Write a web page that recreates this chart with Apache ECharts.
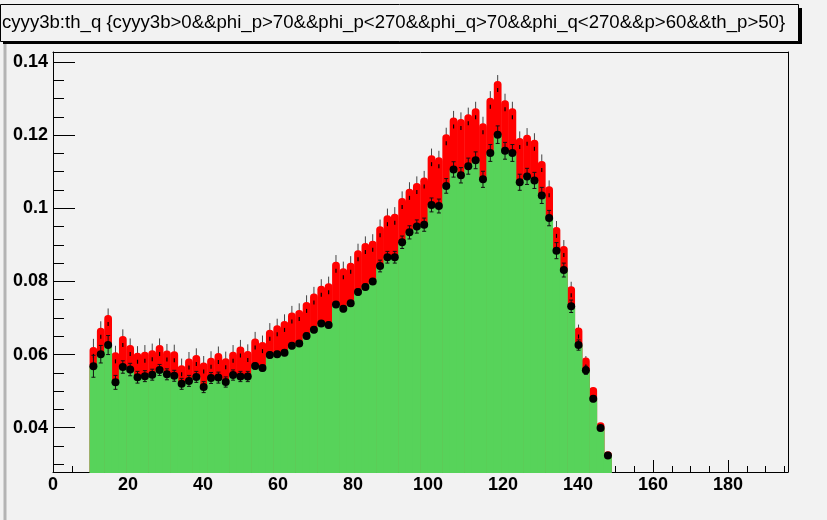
<!DOCTYPE html>
<html>
<head>
<meta charset="utf-8">
<script src="https://cdn.jsdelivr.net/npm/echarts@6/dist/echarts.min.js"></script>
<style>
  html, body { margin: 0; padding: 0; background: #f2f2f2; }
  #chart { width: 827px; height: 520px; }
</style>
</head>
<body>
<div id="chart"></div>
<script>
// Histogram of th_q: 100 bins of width 1.96 over [0, 196]; filled bins start at bin 5.
const binWidth = 1.96;
const firstBin = 5;

// Bin contents (black points / green fill)
const values = [
  0.0568, 0.0601, 0.0626, 0.0524, 0.0566, 0.0559, 0.0538, 0.0541, 0.0545, 0.0558,
  0.0546, 0.0542, 0.0520, 0.0528, 0.0539, 0.0511, 0.0536, 0.0537, 0.0525, 0.0544,
  0.0540, 0.0540, 0.0569, 0.0563, 0.0599, 0.0601, 0.0605, 0.0624, 0.0630, 0.0651,
  0.0668, 0.0685, 0.0681, 0.0737, 0.0725, 0.0740, 0.0771, 0.0785, 0.0800, 0.0842,
  0.0866, 0.0866, 0.0907, 0.0934, 0.0950, 0.0955, 0.1009, 0.1006, 0.1061, 0.1106,
  0.1090, 0.1115, 0.1131, 0.1079, 0.1151, 0.1201, 0.1157, 0.1151, 0.1071, 0.1087,
  0.1076, 0.1035, 0.0973, 0.0884, 0.0831, 0.0732, 0.0626, 0.0557, 0.0479, 0.0399,
  0.0324
];

// Statistical errors of the bin contents
const errors = [
  0.0030, 0.0024, 0.0026, 0.0019, 0.0017, 0.0017, 0.0016, 0.0015, 0.0015, 0.0015,
  0.0015, 0.0015, 0.0015, 0.0015, 0.0015, 0.0015, 0.0015, 0.0015, 0.0014, 0.0014,
  0.0014, 0.0014, 0.0008, 0.0008, 0.0008, 0.0008, 0.0008, 0.0008, 0.0008, 0.0008,
  0.0008, 0.0008, 0.0008, 0.0008, 0.0008, 0.0008, 0.0008, 0.0008, 0.0008, 0.0016,
  0.0016, 0.0016, 0.0017, 0.0018, 0.0018, 0.0018, 0.0019, 0.0019, 0.0020, 0.0021,
  0.0021, 0.0022, 0.0023, 0.0022, 0.0023, 0.0024, 0.0023, 0.0023, 0.0022, 0.0022,
  0.0022, 0.0022, 0.0021, 0.0022, 0.0019, 0.0017, 0.0014, 0.0011, 0.0008, 0.0007,
  0.0006
];

// Upper (red) band edge per bin
const upper = [
  0.0621, 0.0673, 0.0708, 0.0606, 0.0651, 0.0626, 0.0605, 0.0608, 0.0612, 0.0626,
  0.0611, 0.0609, 0.0571, 0.0589, 0.0599, 0.0578, 0.0591, 0.0604, 0.0590, 0.0608,
  0.0622, 0.0610, 0.0644, 0.0634, 0.0668, 0.0680, 0.0692, 0.0715, 0.0722, 0.0744,
  0.0767, 0.0788, 0.0795, 0.0854, 0.0836, 0.0851, 0.0885, 0.0905, 0.0911, 0.0951,
  0.0981, 0.0985, 0.1028, 0.1053, 0.1069, 0.1084, 0.1145, 0.1139, 0.1202, 0.1248,
  0.1244, 0.1257, 0.1273, 0.1232, 0.1302, 0.1348, 0.1295, 0.1273, 0.1192, 0.1201,
  0.1187, 0.1129, 0.1060, 0.0949, 0.0897, 0.0787, 0.0674, 0.0592, 0.0511, 0.0415,
  0.0336
];

// Error on the upper band edge
const upperErr = [
  0.0022, 0.0018, 0.0018, 0.0018, 0.0018, 0.0018, 0.0018, 0.0018, 0.0018, 0.0018,
  0.0018, 0.0018, 0.0018, 0.0018, 0.0018, 0.0018, 0.0018, 0.0018, 0.0018, 0.0018,
  0.0018, 0.0018, 0.0018, 0.0018, 0.0018, 0.0018, 0.0018, 0.0018, 0.0018, 0.0018,
  0.0018, 0.0018, 0.0018, 0.0018, 0.0018, 0.0018, 0.0018, 0.0018, 0.0018, 0.0018,
  0.0018, 0.0018, 0.0018, 0.0018, 0.0018, 0.0018, 0.0018, 0.0018, 0.0018, 0.0018,
  0.0018, 0.0018, 0.0018, 0.0018, 0.0018, 0.0016, 0.0018, 0.0018, 0.0018, 0.0018,
  0.0018, 0.0018, 0.0016, 0.0016, 0.0016, 0.0012, 0.0008, 0.0004, 0.0000, 0.0000,
  0.0000
];

// Axis ticks and labels
const xTicks = [0, 20, 40, 60, 80, 100, 120, 140, 160, 180];
const xMinorTicks = [5, 10, 15, 25, 30, 35, 45, 50, 55, 65, 70, 75, 85, 90, 95,
  105, 110, 115, 125, 130, 135, 145, 150, 155, 165, 170, 175, 185, 190, 195];
const yTicks = [0.04, 0.06, 0.08, 0.1, 0.12, 0.14];
const yMinorTicks = [0.03, 0.035, 0.045, 0.05, 0.055, 0.065, 0.07, 0.075, 0.085, 0.09,
  0.095, 0.105, 0.11, 0.115, 0.125, 0.13, 0.135];

const titleText = 'cyyy3b:th_q {cyyy3b>0&&phi_p>70&&phi_p<270&&phi_q>70&&phi_q<270&&p>60&&th_p>50}';

const X_MIN = 0, X_MAX = 196;
const Y_MIN = 0.0279, Y_MAX = 0.1427;

const bins = values.map((v, k) => {
  const lo = (firstBin + k) * binWidth;
  return [lo, lo + binWidth, v, errors[k], upper[k], upperErr[k]];
});

const FONT = '"Liberation Sans", Arial, Helvetica, sans-serif';

// Red band: rounded column per bin up to the upper edge, with its error line
function renderUpper(params, api) {
  const lo = api.value(0), hi = api.value(1), top = api.value(4), ext = api.value(5);
  const a = api.coord([lo, top]), b = api.coord([hi, top]);
  const base = api.coord([lo, Y_MIN])[1];
  const yExt = api.coord([lo, top + ext])[1];
  const w = b[0] - a[0], cx = (a[0] + b[0]) / 2, r = w / 2;
  const children = [];
  if (ext > 0) {
    children.push({ type: 'line', shape: { x1: cx, y1: a[1] + 2, x2: cx, y2: yExt },
      style: { stroke: '#444', lineWidth: 1 } });
  }
  children.push({ type: 'rect', shape: { x: a[0] - 0.2, y: a[1], width: w + 0.4, height: base - a[1], r: [r, r, 0, 0] },
    style: { fill: '#ff0000' } });
  if (ext > 0) {
    children.push({ type: 'line', shape: { x1: cx, y1: a[1] + 7, x2: cx, y2: a[1] + 11 },
      style: { stroke: '#000', lineWidth: 1.2 } });
  }
  return { type: 'group', children };
}

// Green filled histogram
function renderFill(params, api) {
  const lo = api.value(0), hi = api.value(1), v = api.value(2);
  const a = api.coord([lo, v]), b = api.coord([hi, v]);
  const base = api.coord([lo, Y_MIN])[1];
  return { type: 'rect', shape: { x: a[0] - 0.3, y: a[1], width: b[0] - a[0] + 0.6, height: base - a[1] + 1 },
    style: { fill: '#57d35a' } };
}

// Black markers with error bars
function renderPoint(params, api) {
  const lo = api.value(0), hi = api.value(1), v = api.value(2), e = api.value(3);
  const a = api.coord([lo, v]), b = api.coord([hi, v]);
  const cx = (a[0] + b[0]) / 2, cy = a[1];
  const yT = api.coord([lo, v + e])[1], yB = api.coord([lo, v - e])[1];
  const st = { stroke: '#111', lineWidth: 1 };
  return { type: 'group', children: [
    { type: 'line', shape: { x1: cx, y1: yT, x2: cx, y2: yB }, style: st },
    { type: 'line', shape: { x1: cx - 2, y1: yT, x2: cx + 2, y2: yT }, style: st },
    { type: 'line', shape: { x1: cx - 2, y1: yB, x2: cx + 2, y2: yB }, style: st },
    { type: 'circle', shape: { cx: cx, cy: cy, r: 4 }, style: { fill: '#000' } }
  ] };
}

const labelFmt = v => String(Math.round(v * 1000) / 1000);
const axisLineStyle = { color: '#000', width: 1 };

const option = {
  backgroundColor: '#f2f2f2',
  animation: false,
  grid: { left: 53, right: 39, top: 52, bottom: 48, containLabel: false },
  xAxis: [
    {
      type: 'value', min: X_MIN, max: X_MAX, position: 'bottom',
      axisLine: { show: true, onZero: false, lineStyle: axisLineStyle },
      axisTick: { show: true, inside: true, length: 12, customValues: xTicks, lineStyle: axisLineStyle },
      axisLabel: { customValues: xTicks, formatter: labelFmt, margin: 4,
        fontSize: 18, fontWeight: 'bold', fontFamily: FONT, color: '#000' },
      splitLine: { show: false }
    },
    {
      type: 'value', min: X_MIN, max: X_MAX, position: 'bottom',
      axisLine: { show: false, onZero: false },
      axisTick: { show: true, inside: true, length: 6, customValues: xMinorTicks, lineStyle: axisLineStyle },
      axisLabel: { show: false },
      splitLine: { show: false }
    },
    {
      type: 'value', min: X_MIN, max: X_MAX, position: 'top',
      axisLine: { show: true, onZero: false, lineStyle: axisLineStyle },
      axisTick: { show: false }, axisLabel: { show: false }, splitLine: { show: false }
    }
  ],
  yAxis: [
    {
      type: 'value', min: Y_MIN, max: Y_MAX, position: 'left',
      axisLine: { show: true, onZero: false, lineStyle: axisLineStyle },
      axisTick: { show: true, inside: true, length: 22, customValues: yTicks, lineStyle: axisLineStyle },
      axisLabel: { customValues: yTicks, formatter: labelFmt, margin: 5,
        fontSize: 18, fontWeight: 'bold', fontFamily: FONT, color: '#000' },
      splitLine: { show: false }
    },
    {
      type: 'value', min: Y_MIN, max: Y_MAX, position: 'left',
      axisLine: { show: false, onZero: false },
      axisTick: { show: true, inside: true, length: 11, customValues: yMinorTicks, lineStyle: axisLineStyle },
      axisLabel: { show: false },
      splitLine: { show: false }
    },
    {
      type: 'value', min: Y_MIN, max: Y_MAX, position: 'right',
      axisLine: { show: true, onZero: false, lineStyle: axisLineStyle },
      axisTick: { show: false }, axisLabel: { show: false }, splitLine: { show: false }
    }
  ],
  series: [
    { type: 'custom', name: 'upper', xAxisIndex: 0, yAxisIndex: 0, z: 2,
      renderItem: renderUpper, data: bins, clip: true },
    { type: 'custom', name: 'fill', xAxisIndex: 0, yAxisIndex: 0, z: 3,
      renderItem: renderFill, data: bins },
    { type: 'custom', name: 'points', xAxisIndex: 0, yAxisIndex: 0, z: 4,
      renderItem: renderPoint, data: bins }
  ],
  graphic: [
    // pad edge on the left
    { type: 'rect', shape: { x: 3.5, y: 44, width: 3, height: 476 }, style: { fill: '#b4b4b4' }, z: 1 },
    // title box with shadow
    { type: 'rect', shape: { x: 3, y: 8, width: 799, height: 36 }, style: { fill: '#000' }, z: 10 },
    { type: 'rect', shape: { x: 0.5, y: 4.5, width: 798, height: 37 },
      style: { fill: '#f2f2f2', stroke: '#000', lineWidth: 1 }, z: 11 },
    { type: 'text', x: 2, y: 23,
      style: { text: titleText, font: '18.6px ' + FONT, fill: '#000', verticalAlign: 'middle', align: 'left' }, z: 12 }
  ]
};

const chart = echarts.init(document.getElementById('chart'));
chart.setOption(option);
</script>
</body>
</html>
